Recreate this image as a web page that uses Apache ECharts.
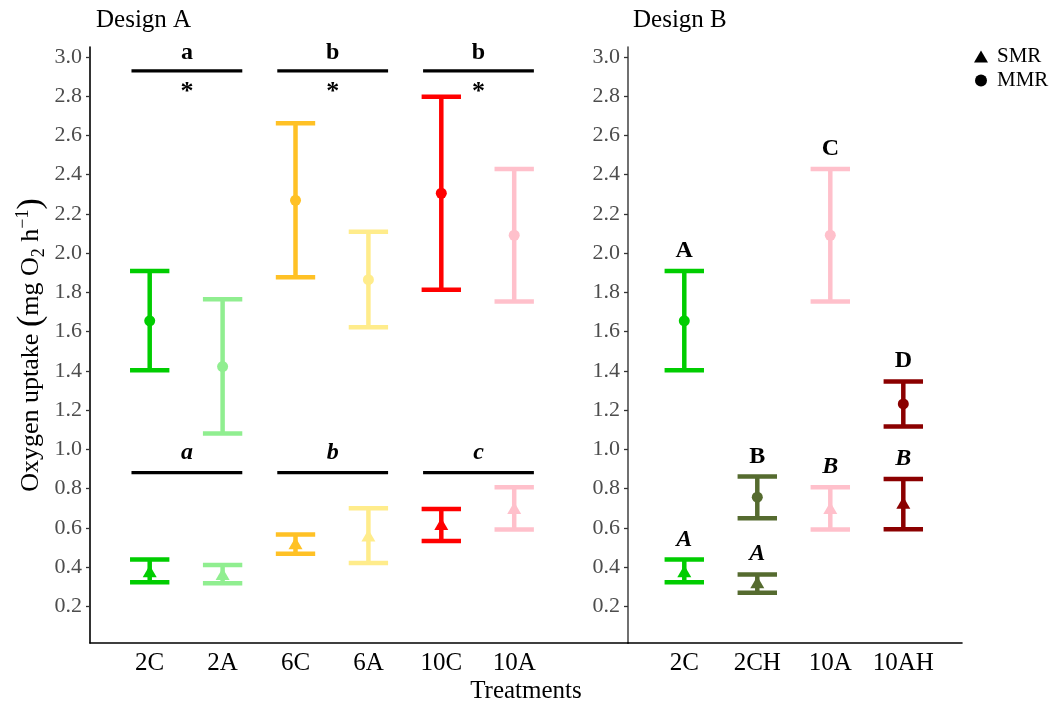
<!DOCTYPE html>
<html>
<head>
<meta charset="utf-8">
<script src="https://cdn.jsdelivr.net/npm/echarts@6/dist/echarts.min.js"></script>
<style>
  html, body { margin: 0; padding: 0; background: #fff; }
  #chart { width: 1052px; height: 704px; }
</style>
</head>
<body>
<div id="chart"></div>
<script>
// ---- Design A: treatments, colours and oxygen uptake (mg O2 h-1) ----
const catsA = ['2C', '2A', '6C', '6A', '10C', '10A'];
const colorsA = ['#00CD00', '#90EE90', '#FFC125', '#FFEC8B', '#FF0000', '#FFC0CB'];
const mmrMeanA = [1.655, 1.422, 2.269, 1.865, 2.305, 2.091];
const mmrLowA  = [1.404, 1.081, 1.877, 1.623, 1.814, 1.753];
const mmrHighA = [1.909, 1.765, 2.661, 2.109, 2.797, 2.429];
const smrMeanA = [0.380, 0.365, 0.522, 0.562, 0.620, 0.702];
const smrLowA  = [0.324, 0.319, 0.468, 0.422, 0.533, 0.592];
const smrHighA = [0.439, 0.411, 0.567, 0.701, 0.697, 0.808];
// pairwise groupings (control vs acclimated) and their letters
const pairsA = [[0, 1], [2, 3], [4, 5]];
const mmrGroupA = ['a', 'b', 'b'];
const mmrStarA = ['*', '*', '*'];
const smrGroupA = ['a', 'b', 'c'];

// ---- Design B ----
const catsB = ['2C', '2CH', '10A', '10AH'];
const colorsB = ['#00CD00', '#556B2F', '#FFC0CB', '#8B0000'];
const mmrMeanB = [1.655, 0.757, 2.091, 1.232];
const mmrLowB  = [1.404, 0.650, 1.753, 1.117];
const mmrHighB = [1.909, 0.862, 2.429, 1.346];
const smrMeanB = [0.380, 0.323, 0.702, 0.728];
const smrLowB  = [0.324, 0.270, 0.592, 0.594];
const smrHighB = [0.439, 0.363, 0.808, 0.849];
const mmrLetterB = ['A', 'B', 'C', 'D'];
const smrLetterB = ['A', 'A', 'B', 'B'];

// y tick labels
const yTicks = [0.2, 0.4, 0.6, 0.8, 1.0, 1.2, 1.4, 1.6, 1.8, 2.0, 2.2, 2.4, 2.6, 2.8, 3.0];

// ---- layout / style ----
const FONT = "'Liberation Serif', 'Times New Roman', 'DejaVu Serif', serif";
const Y_MIN = 0.014, Y_MAX = 3.05;
const CAP_HALF = 0.27;        // half width of error bar caps, x units
const BAR_W = 4.5;
const LETTER_OFFSET = 0.103;  // letter centre above a cap
const A_TOP_LINE = 2.928, A_LOW_LINE = 0.882;

function errorBars(axis, lows, highs, colors) {
  return {
    type: 'custom', xAxisIndex: axis, yAxisIndex: axis, z: 2, silent: true,
    data: lows.map((l, i) => [i, l, highs[i]]),
    encode: { x: 0, y: [1, 2] },
    renderItem(params, api) {
      const x = api.value(0);
      const lo = api.coord([x, api.value(1)]);
      const hi = api.coord([x, api.value(2)]);
      const half = api.size([CAP_HALF, 0])[0];
      const style = { stroke: colors[params.dataIndex], lineWidth: BAR_W, fill: null };
      return {
        type: 'group', children: [
          { type: 'line', shape: { x1: lo[0], y1: lo[1], x2: hi[0], y2: hi[1] }, style },
          { type: 'line', shape: { x1: lo[0] - half, y1: lo[1], x2: lo[0] + half, y2: lo[1] }, style },
          { type: 'line', shape: { x1: hi[0] - half, y1: hi[1], x2: hi[0] + half, y2: hi[1] }, style }
        ]
      };
    }
  };
}

function points(name, axis, means, colors, symbol, size) {
  return {
    name, type: 'scatter', xAxisIndex: axis, yAxisIndex: axis, z: 3, silent: true,
    symbol, symbolSize: size,
    data: means.map((m, i) => [i, m]),
    itemStyle: { color: p => colors[p.dataIndex], opacity: 1 }
  };
}

// text labels centred on data positions; texts looked up by index
function letters(axis, xs, ys, texts, italic, size) {
  return {
    type: 'custom', xAxisIndex: axis, yAxisIndex: axis, z: 4, silent: true,
    data: xs.map((x, i) => [x, ys[i]]),
    encode: { x: 0, y: 1 },
    renderItem(params, api) {
      const p = api.coord([api.value(0), api.value(1)]);
      return {
        type: 'text', x: p[0], y: p[1],
        style: {
          text: texts[params.dataIndex], textAlign: 'center', textVerticalAlign: 'middle',
          fontFamily: FONT, fontWeight: 'bold', fontStyle: italic ? 'italic' : 'normal',
          fontSize: size || 24, fill: '#000'
        }
      };
    }
  };
}

function segments(axis, pairs, y) {
  return {
    type: 'custom', xAxisIndex: axis, yAxisIndex: axis, z: 2, silent: true,
    data: pairs.map(pr => [pr[0] - 0.25, pr[1] + 0.27, y]),
    encode: { x: [0, 1], y: 2 },
    renderItem(params, api) {
      const a = api.coord([api.value(0), api.value(2)]);
      const b = api.coord([api.value(1), api.value(2)]);
      return { type: 'line', shape: { x1: a[0], y1: a[1], x2: b[0], y2: b[1] },
               style: { stroke: '#000', lineWidth: 3.2 } };
    }
  };
}

const pairMid = pairsA.map(pr => (pr[0] + pr[1]) / 2 + 0.01);

function yAxis(grid, lineColor) {
  return {
    type: 'value', gridIndex: grid, min: Y_MIN, max: Y_MAX,
    splitLine: { show: false },
    axisLine: { show: true, onZero: false, lineStyle: { color: lineColor, width: 1.6 } },
    axisTick: { show: true, length: 4, customValues: yTicks, lineStyle: { color: '#333', width: 1.3 } },
    axisLabel: { customValues: yTicks, margin: 8, color: '#4d4d4d', fontSize: 22, fontFamily: FONT,
                 formatter: v => v.toFixed(1) }
  };
}

function xAxis(grid, cats, min, max) {
  return {
    type: 'value', gridIndex: grid, min, max,
    splitLine: { show: false },
    axisLine: { show: true, onZero: false, lineStyle: { color: '#000', width: 1.6 } },
    axisTick: { show: false },
    axisLabel: { customValues: cats.map((c, i) => i), margin: 8, color: '#000', fontSize: 25,
                 fontFamily: FONT, formatter: v => cats[Math.round(v)] }
  };
}

const chart = echarts.init(document.getElementById('chart'), null, { renderer: 'canvas' });
chart.setOption({
  backgroundColor: '#fff',
  animation: false,
  title: [
    { text: 'Design A', left: 96, top: 8, padding: 0,
      textStyle: { fontFamily: FONT, fontSize: 25, fontWeight: 'normal', color: '#000' } },
    { text: 'Design B', left: 633, top: 8, padding: 0,
      textStyle: { fontFamily: FONT, fontSize: 25, fontWeight: 'normal', color: '#000' } }
  ],
  legend: {
    orient: 'vertical', left: 974, top: 46, padding: 0,
    itemWidth: 14, itemHeight: 12, itemGap: 3,
    selectedMode: false,
    textStyle: { fontFamily: FONT, fontSize: 21, color: '#000', padding: [0, 0, 0, 4] },
    data: [
      { name: 'SMR', icon: 'triangle', itemStyle: { color: '#000' } },
      { name: 'MMR', icon: 'circle', itemStyle: { color: '#000' } }
    ]
  },
  grid: [
    { left: 90, right: 1052 - 628, top: 47, bottom: 61 },
    { left: 628, right: 90, top: 47, bottom: 61 }
  ],
  xAxis: [ xAxis(0, catsA, -0.819, 6.561), xAxis(1, catsB, -0.771, 3.804) ],
  yAxis: [ yAxis(0, '#000'), yAxis(1, '#4d4d4d') ],
  graphic: [
    { type: 'text', x: 31, y: 345, rotation: Math.PI / 2, silent: true,
      style: {
        text: 'Oxygen uptake {p|(}mg O{sub|2} h{sup|−1}{p|)}',
        textAlign: 'center', textVerticalAlign: 'middle',
        fontFamily: FONT, fontSize: 26, fill: '#000',
        rich: {
          p: { fontFamily: FONT, fontSize: 34, fill: '#000', verticalAlign: 'middle' },
          sub: { fontFamily: FONT, fontSize: 18, fill: '#000', verticalAlign: 'bottom', padding: [12, 0, 0, 0] },
          sup: { fontFamily: FONT, fontSize: 18, fill: '#000', verticalAlign: 'top', padding: [0, 0, 12, 0] }
        }
      } },
    { type: 'text', x: 526, y: 691, silent: true,
      style: { text: 'Treatments', textAlign: 'center', textVerticalAlign: 'middle',
               fontFamily: FONT, fontSize: 25, fill: '#000' } }
  ],
  series: [
    // Design A
    segments(0, pairsA, A_TOP_LINE),
    segments(0, pairsA, A_LOW_LINE),
    letters(0, pairMid, pairMid.map(() => A_TOP_LINE + 0.091), mmrGroupA, false),
    letters(0, pairMid, pairMid.map(() => A_TOP_LINE - 0.11), mmrStarA, false, 26),
    letters(0, pairMid, pairMid.map(() => A_LOW_LINE + 0.101), smrGroupA, true),
    errorBars(0, mmrLowA, mmrHighA, colorsA),
    errorBars(0, smrLowA, smrHighA, colorsA),
    points('MMR', 0, mmrMeanA, colorsA, 'circle', 11),
    points('SMR', 0, smrMeanA, colorsA, 'triangle', [14, 12]),
    // Design B
    errorBars(1, mmrLowB, mmrHighB, colorsB),
    errorBars(1, smrLowB, smrHighB, colorsB),
    points('MMR', 1, mmrMeanB, colorsB, 'circle', 11),
    points('SMR', 1, smrMeanB, colorsB, 'triangle', [14, 12]),
    letters(1, catsB.map((c, i) => i), mmrHighB.map(h => h + LETTER_OFFSET), mmrLetterB, false),
    letters(1, catsB.map((c, i) => i), smrHighB.map(h => h + LETTER_OFFSET), smrLetterB, true)
  ]
});
</script>
</body>
</html>
